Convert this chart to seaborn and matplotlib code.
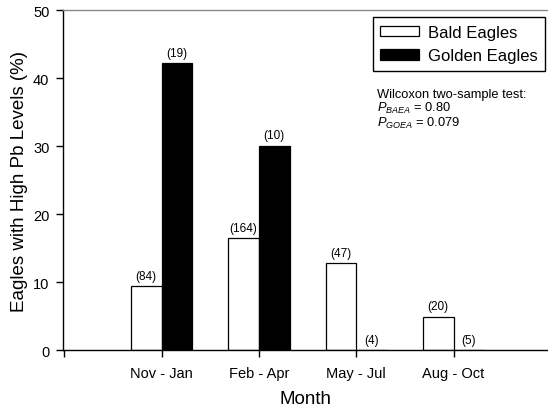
import matplotlib
matplotlib.use("Agg")
import matplotlib.pyplot as plt
import seaborn as sns
import pandas as pd

months = ["Nov - Jan", "Feb - Apr", "May - Jul", "Aug - Oct"]
species = ["Bald Eagles", "Golden Eagles"]
bald_pct = [9.4, 16.5, 12.8, 4.95]
golden_pct = [42.2, 30.1, 0.0, 0.0]
bald_n = [84, 164, 47, 20]
golden_n = [19, 10, 4, 5]
stats_title = "Wilcoxon two-sample test:"
p_baea = "0.80"
p_goea = "0.079"

sns.set_style("ticks")
plt.rcParams["font.family"] = ["Liberation Sans", "DejaVu Sans"]
plt.rcParams["mathtext.fontset"] = "custom"
plt.rcParams["mathtext.rm"] = "Liberation Sans"
plt.rcParams["mathtext.it"] = "Liberation Sans:italic"
plt.rcParams["text.color"] = "black"
plt.rcParams["axes.labelcolor"] = "black"
plt.rcParams["xtick.color"] = "black"
plt.rcParams["ytick.color"] = "black"

df = pd.DataFrame({
    "Month": months * 2,
    "Species": [species[0]] * 4 + [species[1]] * 4,
    "pct": bald_pct + golden_pct,
})

fig = plt.figure(figsize=(5.48, 4.10), dpi=100)
W, H = 548, 410
left, right, top, bottom = 63.3, 547.0, 11.3, 351.3
ax = fig.add_axes([left / W, 1 - bottom / H, (right - left) / W, (bottom - top) / H])

sns.barplot(data=df, x="Month", y="pct", hue="Species", order=months,
            hue_order=species, palette={species[0]: "white", species[1]: "black"},
            width=0.63, gap=0, edgecolor="black", linewidth=0.9, ax=ax,
            errorbar=None, saturation=1)

for cont, ns in zip(ax.containers, [bald_n, golden_n]):
    ax.bar_label(cont, labels=[f"({n})" for n in ns], padding=3, fontsize=8.5,
                 color="black")

ax.set_xlim(-1.01, 3.96)
ax.set_ylim(0, 50)
ax.set_yticks([0, 10, 20, 30, 40, 50])
ax.set_xticks([-1, 0, 1, 2, 3])
ax.set_xticklabels([""] + months)
ax.tick_params(axis="both", direction="out", length=5, width=1, color="black",
               labelsize=10.5, labelcolor="black")
ax.tick_params(axis="x", pad=6)
ax.tick_params(axis="y", pad=5)
ax.set_xlabel("Month", fontsize=13.5, labelpad=7.5, color="black")
ax.set_ylabel("Eagles with High Pb Levels (%)", fontsize=13.5, labelpad=3.5,
              color="black")

for s in ["left", "bottom"]:
    ax.spines[s].set_color("black")
    ax.spines[s].set_linewidth(1)
ax.spines["top"].set_visible(True)
ax.spines["top"].set_color("#888888")
ax.spines["top"].set_linewidth(1)
ax.spines["right"].set_visible(False)

leg = ax.legend(loc="upper right", bbox_to_anchor=(0.996, 0.979), borderaxespad=0,
                fontsize=12, frameon=True, fancybox=False, framealpha=1,
                handlelength=2.3, handleheight=0.6, handletextpad=0.55,
                labelspacing=0.5, borderpad=0.45, title=None)
leg.get_frame().set_edgecolor("black")
leg.get_frame().set_linewidth(1)
for t in leg.get_texts():
    t.set_color("black")

ax.text(2.215, 37.2, stats_title, fontsize=9.3, va="baseline", ha="left")
ax.text(2.215, 35.2, r"$P_{BAEA}$ = " + p_baea, fontsize=9.3, va="baseline", ha="left")
ax.text(2.215, 33.0, r"$P_{GOEA}$ = " + p_goea, fontsize=9.3, va="baseline", ha="left")

fig.savefig("out.png", dpi=100)
